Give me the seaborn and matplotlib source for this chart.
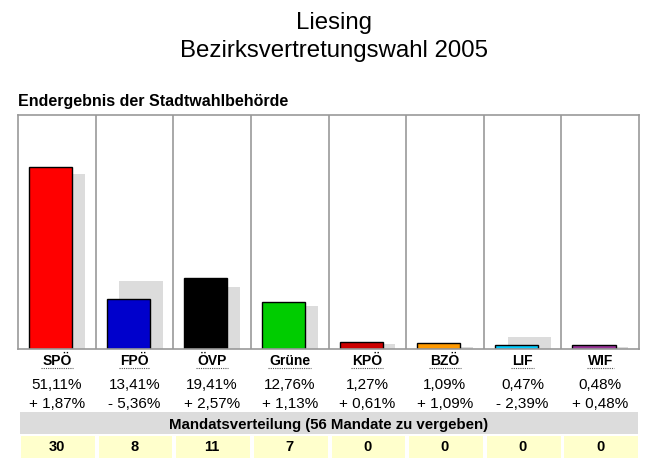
import numpy as np
import pandas as pd
import seaborn as sns
import matplotlib.pyplot as plt
from matplotlib.lines import Line2D
from matplotlib.patches import Rectangle
from matplotlib.transforms import blended_transform_factory

sns.set_style("white")
plt.rcParams['font.family'] = ['Liberation Sans', 'DejaVu Sans']
plt.rcParams['text.color'] = 'black'

# data
parties = ['SPÖ', 'FPÖ', 'ÖVP', 'Grüne', 'KPÖ', 'BZÖ', 'LIF', 'WIF']
colors = ['#ff0000', '#0000cc', '#000000', '#00cc00', '#cc0000', '#ff9900', '#00ccff', '#993399']
pct_2005 = [51.11, 13.41, 19.41, 12.76, 1.27, 1.09, 0.47, 0.48]
pct_2001 = [49.24, 18.77, 16.84, 11.63, 0.66, 0.00, 2.86, 0.00]
pct_labels = ['51,11%', '13,41%', '19,41%', '12,76%', '1,27%', '1,09%', '0,47%', '0,48%']
diff_labels = ['+ 1,87%', '- 5,36%', '+ 2,57%', '+ 1,13%', '+ 0,61%', '+ 1,09%', '- 2,39%', '+ 0,48%']
mandate = [30, 8, 11, 7, 0, 0, 0, 0]

W, H = 669, 477
fig = plt.figure(figsize=(W / 100, H / 100), dpi=100)

def fy(py):
    return 1 - py / H

# plot area in pixels: x 18..639, y 116..350
x0, x1, y0, y1 = 18, 639, 116, 350
ax = fig.add_axes([x0 / W, fy(y1), (x1 - x0) / W, (y1 - y0) / H])

# the original graphic gives every bar a small base stub (~2.5 px)
stub = 0.7
pos = np.arange(len(parties))
df = pd.DataFrame({
    'party': parties,
    'x_now': pos + 0.42,
    'x_prev': pos + 0.585,
    'now': np.array(pct_2005) + stub,
    'prev': np.array(pct_2001) + stub,
})

sns.barplot(data=df, x='x_prev', y='prev', native_scale=True, width=0.555,
            color='#dcdcdc', saturation=1, ax=ax, zorder=1, linewidth=0)
sns.barplot(data=df, x='x_now', y='now', hue='party', palette=colors, saturation=1,
            native_scale=True, width=0.555, legend=False, ax=ax, zorder=2,
            edgecolor='black', linewidth=1)

ax.set_xlim(0, len(parties))
ax.set_ylim(0, 234 / 3.51)
ax.set_xlabel('')
ax.set_ylabel('')
ax.set_xticks([])
ax.set_yticks([])
for s in ax.spines.values():
    s.set_color('#999999')
    s.set_linewidth(1.2)
for i in range(1, len(parties)):
    ax.axvline(i, color='#999999', lw=1.2, zorder=0)

# titles
fig.text(0.5, fy(29), 'Liesing', ha='center', va='baseline', fontsize=17.3)
fig.text(0.5, fy(57), 'Bezirksvertretungswahl 2005', ha='center', va='baseline', fontsize=17.3)
fig.text(18 / W, fy(106), 'Endergebnis der Stadtwahlbehörde', ha='left', va='baseline',
         fontsize=11.5, fontweight='bold')

tr = blended_transform_factory(ax.transData, fig.transFigure)
name_texts = []
for i, p in enumerate(parties):
    c = i + 0.5
    t = ax.text(c, fy(365), p, transform=tr, ha='center', va='baseline',
                fontsize=10, fontweight='bold')
    name_texts.append(t)
    ax.text(c, fy(389), pct_labels[i], transform=tr, ha='center', va='baseline', fontsize=11)
    ax.text(c, fy(408), diff_labels[i], transform=tr, ha='center', va='baseline', fontsize=11)
    # mandate cells
    ax.add_patch(Rectangle((i + 0.04, fy(459)), 0.95, (459 - 437) / H, transform=tr,
                           facecolor='#ffffcc', edgecolor='none', clip_on=False))
    ax.text(c, fy(451), str(mandate[i]), transform=tr, ha='center', va='baseline',
            fontsize=10.5, fontweight='bold')

# grey band for the mandate header
fig.patches.append(Rectangle((20 / W, fy(435)), (638 - 20) / W, (435 - 413) / H,
                             transform=fig.transFigure, facecolor='#dcdcdc',
                             edgecolor='none'))
fig.text(329 / W, fy(429), 'Mandatsverteilung (56 Mandate zu vergeben)', ha='center',
         va='baseline', fontsize=10.8, fontweight='bold')

# dotted underline below party names
fig.canvas.draw()
for t in name_texts:
    bb = t.get_window_extent()
    yline = fy(369)
    fig.lines.append(Line2D([(bb.x0 - 1) / W, (bb.x1 + 1) / W], [yline, yline],
                            transform=fig.transFigure, color='#555555', lw=0.8,
                            ls=(0, (1, 1))))

fig.savefig('out.png', dpi=100)
